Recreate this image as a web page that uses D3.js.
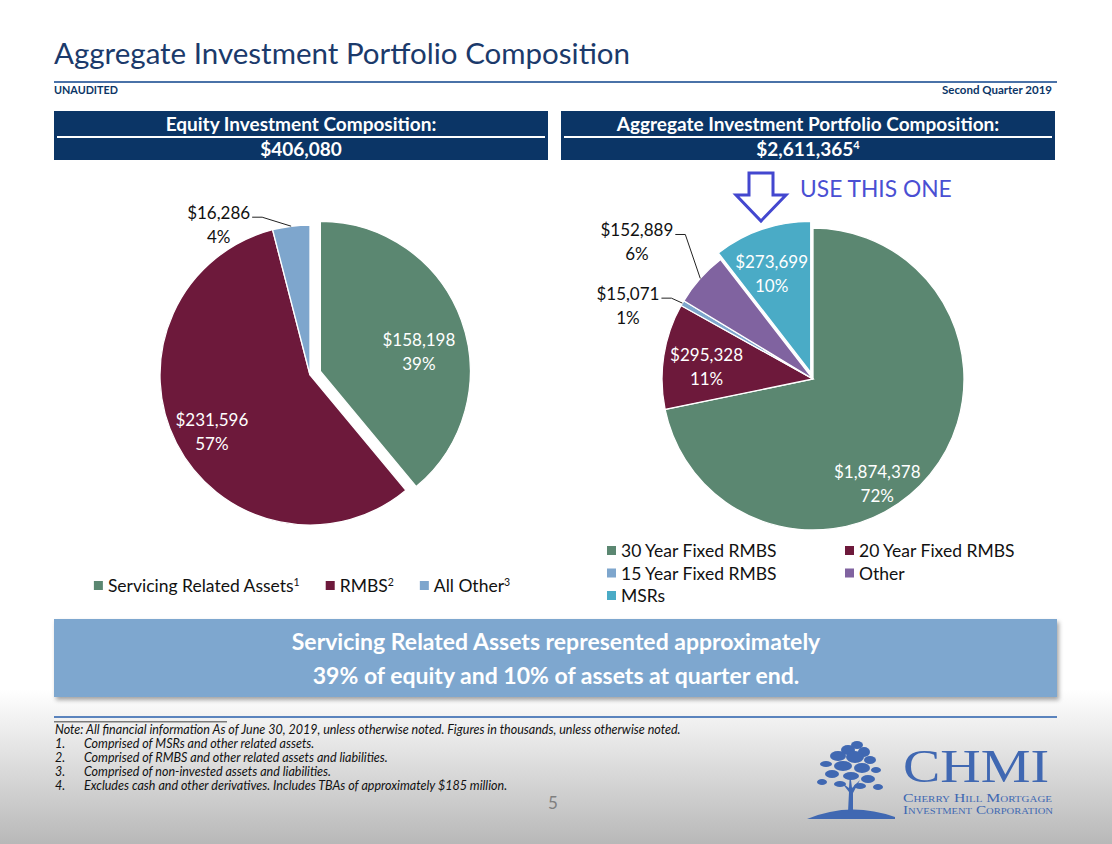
<!DOCTYPE html>
<html>
<head>
<meta charset="utf-8">
<script src="https://cdn.jsdelivr.net/npm/d3@7/dist/d3.min.js"></script>
<style>
body { margin: 0; background: #fff; }
svg { display: block; font-family: Lato, 'Open Sans', sans-serif; }
</style>
</head>
<body>
<div id="slide"></div>
<script>

// equity pie
let equityNames = ['Servicing Related Assets', 'RMBS', 'All Other']
let equityNotes = ['1', '2', '3']
let equityValues = [158198, 231596, 16286]

// aggregate portfolio pie
let portfolioNames = ['30 Year Fixed RMBS', '20 Year Fixed RMBS', '15 Year Fixed RMBS', 'Other', 'MSRs']
let portfolioValues = [1874378, 295328, 15071, 152889, 273699]

let equityColors = ['#5b8771', '#6d193b', '#7ea6cd']
let portfolioColors = ['#5b8771', '#6d193b', '#7ea6cd', '#8063a0', '#4aabc6']

let footNotes = [
	'Comprised of MSRs and other related assets.',
	'Comprised of RMBS and other related assets and liabilities.',
	'Comprised of non-invested assets and liabilities.',
	'Excludes cash and other derivatives. Includes TBAs of approximately $185 million.'
]

let navy = '#0b3566'
let fmt = d3.format('$,')

const svg = d3.select('#slide')
	.append('svg')
	.attr('width', 1112)
	.attr('height', 844)

let defs = svg.append('defs')

let grad = defs.append('linearGradient')
	.attr('id', 'bg')
	.attr('x1', 0).attr('y1', 0).attr('x2', 0).attr('y2', 1)
grad.append('stop').attr('offset', '0%').attr('stop-color', '#ffffff')
grad.append('stop').attr('offset', '100%').attr('stop-color', '#b8b8b8')

defs.append('filter')
	.attr('id', 'shadow')
	.attr('x', '-5%').attr('y', '-20%').attr('width', '110%').attr('height', '150%')
	.append('feDropShadow')
	.attr('dx', 2).attr('dy', 3).attr('stdDeviation', 2)
	.attr('flood-color', '#000').attr('flood-opacity', 0.35)

svg.append('rect').attr('width', 1112).attr('height', 844).attr('fill', '#fff')
svg.append('rect').attr('y', 690).attr('width', 1112).attr('height', 154).attr('fill', 'url(#bg)')

// title block
svg.append('text')
	.attr('x', 54).attr('y', 64)
	.attr('font-size', 29.5)
	.attr('fill', '#1b3a6b')
	.text('Aggregate Investment Portfolio Composition')

svg.append('rect').attr('x', 54).attr('y', 81).attr('width', 1003).attr('height', 2).attr('fill', '#4a72a8')

svg.append('text')
	.attr('x', 54).attr('y', 94)
	.attr('font-size', 10.8).attr('font-weight', 'bold')
	.attr('fill', navy)
	.text('UNAUDITED')

svg.append('text')
	.attr('x', 1052).attr('y', 94)
	.attr('text-anchor', 'end')
	.attr('font-size', 11.5).attr('font-weight', 'bold')
	.attr('fill', navy)
	.text('Second Quarter 2019')

function headerBox(x, title, total, note){
	svg.append('rect').attr('x', x).attr('y', 111).attr('width', 494).attr('height', 49).attr('fill', navy)
	svg.append('rect').attr('x', x + 3).attr('y', 136).attr('width', 488).attr('height', 2).attr('fill', '#fff')
	svg.append('text')
		.attr('x', x + 247).attr('y', 131)
		.attr('text-anchor', 'middle')
		.attr('font-size', 19).attr('font-weight', 'bold')
		.attr('fill', '#fff')
		.text(title)
	let t = svg.append('text')
		.attr('x', x + 247).attr('y', 156)
		.attr('text-anchor', 'middle')
		.attr('font-size', 19).attr('font-weight', 'bold')
		.attr('fill', '#fff')
	t.append('tspan').text(fmt(total))
	if(note)
		t.append('tspan').attr('font-size', 11).attr('dy', -7).text(note)
}

headerBox(54, 'Equity Investment Composition:', d3.sum(equityValues), null)
headerBox(561, 'Aggregate Investment Portfolio Composition:', d3.sum(portfolioValues), '4')

// arrow + callout
svg.append('path')
	.attr('d', 'M749,173 L773,173 L773,195 L786,195 L761,221 L736,195 L749,195 Z')
	.attr('fill', 'none')
	.attr('stroke', '#4347cf')
	.attr('stroke-width', 3)
	.attr('stroke-linejoin', 'miter')

svg.append('text')
	.attr('x', 800).attr('y', 197)
	.attr('font-size', 22.8)
	.attr('fill', '#4a4fd3')
	.text('USE THIS ONE')

function drawPie(values, colors, center, radius, explode, sides, nudges){
	
	let total = d3.sum(values)
	let arcs = d3.pie().sort(null).value(d => d)(values)
	let arc = d3.arc().innerRadius(0).outerRadius(radius)
	let labelArc = d3.arc().innerRadius(radius * 0.72).outerRadius(radius * 0.72)
	
	let g = svg.append('g').attr('transform', `translate(${center[0]},${center[1]})`)
	
	let offsets = arcs.map(function(a, i){
		let mid = (a.startAngle + a.endAngle) / 2
		return [Math.sin(mid) * explode[i], -Math.cos(mid) * explode[i]]
	})
	
	g.selectAll('.slice')
		.data(arcs)
		.enter()
		.append('path')
		.attr('class', 'slice')
		.attr('d', arc)
		.attr('transform', (d, i) => `translate(${offsets[i][0]},${offsets[i][1]})`)
		.attr('fill', (d, i) => colors[i])
		.attr('stroke', '#fff')
		.attr('stroke-width', 1.3)
	
	arcs.forEach(function(a, i){
		
		let valueText = fmt(a.value)
		let pctText = Math.round(a.value / total * 100) + '%'
		
		if(sides[i] == 'in'){
			let c = labelArc.centroid(a)
			let x = c[0] + offsets[i][0] + nudges[i][0]
			let y = c[1] + offsets[i][1] + nudges[i][1]
			g.append('text')
				.attr('x', x).attr('y', y - 12).attr('dy', '0.35em')
				.attr('text-anchor', 'middle')
				.attr('font-size', 17).attr('fill', '#fff')
				.text(valueText)
			g.append('text')
				.attr('x', x).attr('y', y + 12).attr('dy', '0.35em')
				.attr('text-anchor', 'middle')
				.attr('font-size', 17).attr('fill', '#fff')
				.text(pctText)
		}
		else {
			let mid = (a.startAngle + a.endAngle) / 2
			let edge = [Math.sin(mid) * radius, -Math.cos(mid) * radius]
			let elbow = [edge[0] + nudges[i][0], edge[1] + nudges[i][1]]
			g.append('path')
				.attr('d', `M${edge[0]},${edge[1]} L${elbow[0]},${elbow[1]} L${elbow[0] - 10},${elbow[1]}`)
				.attr('fill', 'none')
				.attr('stroke', '#222')
				.attr('stroke-width', 1)
			let t1 = g.append('text')
				.attr('x', elbow[0] - 12).attr('y', elbow[1] - 4).attr('dy', '0.35em')
				.attr('text-anchor', 'end')
				.attr('font-size', 17).attr('fill', '#111')
				.text(valueText)
			let w = t1.node().getComputedTextLength()
			g.append('text')
				.attr('x', elbow[0] - 12 - w / 2).attr('y', elbow[1] + 20).attr('dy', '0.35em')
				.attr('text-anchor', 'middle')
				.attr('font-size', 17).attr('fill', '#111')
				.text(pctText)
		}
	})
}

drawPie(equityValues, equityColors, [310, 375], 150,
	[11, 0, 0], ['in', 'in', 'out'], [[-3, 17], [-2, 8], [-29, -9]])

drawPie(portfolioValues, portfolioColors, [813, 379], 151,
	[0, 0, 0, 0, 7], ['in', 'in', 'out', 'out', 'in'],
	[[-20, 36], [1, 5], [-11, -5], [-15, -44], [-4, 5]])

// legends
let legL = svg.append('g')
let cursor = 0
equityNames.forEach(function(name, i){
	let item = legL.append('g').attr('transform', `translate(${cursor},0)`)
	item.append('rect').attr('x', 0).attr('y', -5).attr('width', 9).attr('height', 9).attr('fill', equityColors[i])
	let t = item.append('text').attr('x', 14).attr('y', 0).attr('dy', '0.35em').attr('font-size', 17.5).attr('fill', '#111')
	t.append('tspan').text(name)
	t.append('tspan').attr('font-size', 10.5).attr('dy', -6).text(equityNotes[i])
	cursor += 14 + t.node().getComputedTextLength() + 26
})
cursor -= 26
legL.attr('transform', `translate(${302 - cursor / 2},586)`)

let legR = svg.append('g')
portfolioNames.forEach(function(name, i){
	let x = i % 2 == 0 ? 607 : 845
	let y = 551 + Math.floor(i / 2) * 22.5
	legR.append('rect').attr('x', x).attr('y', y - 5).attr('width', 9).attr('height', 9).attr('fill', portfolioColors[i])
	legR.append('text').attr('x', x + 14).attr('y', y).attr('dy', '0.35em').attr('font-size', 17.5).attr('fill', '#111').text(name)
})

// takeaway banner
svg.append('rect')
	.attr('x', 54).attr('y', 619).attr('width', 1003).attr('height', 78)
	.attr('fill', '#7ea7cf')
	.attr('filter', 'url(#shadow)')

svg.append('text')
	.attr('x', 556).attr('y', 650)
	.attr('text-anchor', 'middle')
	.attr('font-size', 23).attr('font-weight', 'bold').attr('fill', '#fff')
	.text('Servicing Related Assets represented approximately')

svg.append('text')
	.attr('x', 556).attr('y', 684)
	.attr('text-anchor', 'middle')
	.attr('font-size', 23).attr('font-weight', 'bold').attr('fill', '#fff')
	.text('39% of equity and 10% of assets at quarter end.')

// footnotes
svg.append('rect').attr('x', 54).attr('y', 716).attr('width', 1003).attr('height', 2).attr('fill', '#5a83bd')
svg.append('rect').attr('x', 54).attr('y', 721).attr('width', 173).attr('height', 1.5).attr('fill', '#7a7a7a')

svg.append('text')
	.attr('x', 55).attr('y', 734)
	.attr('font-size', 12.5).attr('font-style', 'italic').attr('fill', '#111')
	.text('Note: All financial information As of June 30, 2019, unless otherwise noted. Figures in thousands, unless otherwise noted.')

footNotes.forEach(function(n, i){
	svg.append('text')
		.attr('x', 55).attr('y', 748 + i * 14)
		.attr('font-size', 12.5).attr('font-style', 'italic').attr('fill', '#111')
		.text((i + 1) + '.')
	svg.append('text')
		.attr('x', 84).attr('y', 748 + i * 14)
		.attr('font-size', 12.5).attr('font-style', 'italic').attr('fill', '#111')
		.text(n)
})

svg.append('text')
	.attr('x', 553).attr('y', 809)
	.attr('text-anchor', 'middle')
	.attr('font-size', 17).attr('fill', '#7f7f7f')
	.text('5')

// logo
let logo = svg.append('g').attr('fill', '#4068b2')
logo.append('path').attr('d', 'M807,819 Q850,801 895,817 L895,819 Z')
logo.append('path').attr('d', 'M848,812 L849,792 L842,783 L849,788 L850,772 L852,788 L860,780 L853,793 L853,812 Z')
let blobs = [
	[857, 745, 6, 4], [848, 750, 7, 5], [864, 752, 6, 5], [838, 756, 8, 5],
	[855, 757, 9, 6], [870, 760, 6, 4], [826, 764, 6, 3], [843, 766, 9, 5],
	[862, 768, 8, 5], [876, 770, 5, 3], [832, 774, 7, 4], [851, 776, 8, 4],
	[868, 779, 7, 4], [822, 782, 5, 3], [840, 784, 6, 3], [878, 787, 5, 3],
	[860, 786, 6, 3]
]
logo.selectAll('.blob')
	.data(blobs)
	.enter()
	.append('ellipse')
	.attr('cx', d => d[0]).attr('cy', d => d[1])
	.attr('rx', d => d[2]).attr('ry', d => d[3])

logo.append('text')
	.attr('x', 903).attr('y', 782)
	.attr('font-family', "'Liberation Serif', 'DejaVu Serif', serif")
	.attr('font-size', 46)
	.attr('textLength', 146).attr('lengthAdjust', 'spacingAndGlyphs')
	.text('CHMI')

logo.append('text')
	.attr('x', 903).attr('y', 802)
	.attr('font-family', "'Liberation Serif', 'DejaVu Serif', serif")
	.attr('font-size', 11.5).attr('font-variant', 'small-caps')
	.attr('textLength', 149).attr('lengthAdjust', 'spacingAndGlyphs')
	.text('Cherry Hill Mortgage')

logo.append('text')
	.attr('x', 903).attr('y', 814)
	.attr('font-family', "'Liberation Serif', 'DejaVu Serif', serif")
	.attr('font-size', 11.5).attr('font-variant', 'small-caps')
	.attr('textLength', 150).attr('lengthAdjust', 'spacingAndGlyphs')
	.text('Investment Corporation')

</script>
</body>
</html>
